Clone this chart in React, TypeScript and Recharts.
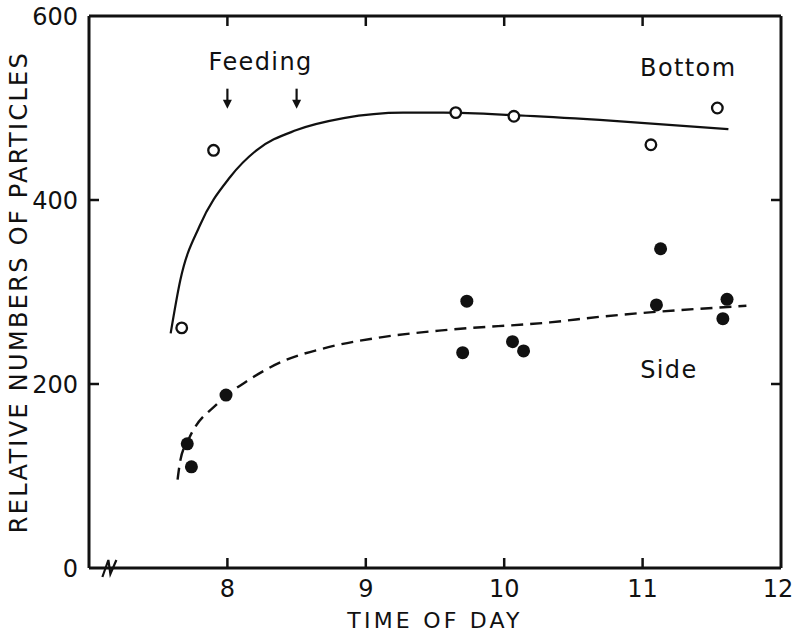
import React from "react";
import {
  ComposedChart,
  Line,
  Scatter,
  XAxis,
  YAxis,
  ReferenceDot,
  ReferenceLine,
} from "recharts";

// measured points (time of day, relative numbers)
const bottomPoints = [
  { x: 7.67, y: 261 },
  { x: 7.9, y: 454 },
  { x: 9.65, y: 495 },
  { x: 10.07, y: 491 },
  { x: 11.06, y: 460 },
  { x: 11.54, y: 500 },
];

const sidePoints = [
  { x: 7.71, y: 135 },
  { x: 7.74, y: 110 },
  { x: 7.99, y: 188 },
  { x: 9.7, y: 234 },
  { x: 9.73, y: 290 },
  { x: 10.06, y: 246 },
  { x: 10.14, y: 236 },
  { x: 11.1, y: 286 },
  { x: 11.13, y: 347 },
  { x: 11.58, y: 271 },
  { x: 11.61, y: 292 },
];

// fitted curves as drawn in the figure
const bottomCurve = [
  { x: 7.59, y: 255 },
  { x: 7.66, y: 313 },
  { x: 7.8, y: 372 },
  { x: 8.02, y: 425 },
  { x: 8.21, y: 454 },
  { x: 8.5, y: 476 },
  { x: 8.84, y: 489 },
  { x: 9.27, y: 495 },
  { x: 9.56, y: 495 },
  { x: 10.1, y: 492 },
  { x: 10.69, y: 487 },
  { x: 11.62, y: 477 },
];

const sideCurve = [
  { x: 7.64, y: 96 },
  { x: 7.66, y: 117 },
  { x: 7.72, y: 140 },
  { x: 7.93, y: 179 },
  { x: 8.15, y: 204 },
  { x: 8.39, y: 224 },
  { x: 8.73, y: 240 },
  { x: 9.12, y: 251 },
  { x: 9.6, y: 259 },
  { x: 10.33, y: 267 },
  { x: 10.69, y: 273 },
  { x: 11.75, y: 285 },
];

const xTicks = [8, 9, 10, 11, 12];
const yTicks = [0, 200, 400, 600];
const innerXTicks = [8, 9, 10, 11];
const innerYTicks = [200, 400];
const feedingTimes = [8, 8.5];

const INK = "#111";
const FONT = "DejaVu Sans";
const TICK_LEN = 10;

const BottomTickLabel = (props: any) => (
  <text
    x={props.payload.value === 12 ? props.x - 3 : props.x}
    y={props.y + 17}
    textAnchor="middle"
    fontSize={24}
    fontFamily={FONT}
    fill={INK}
  >
    {props.payload.value}
  </text>
);

const LeftTickLabel = (props: any) => (
  <text x={props.x} y={props.y + 9} textAnchor="end" fontSize={24} fontFamily={FONT} fill={INK}>
    {props.payload.value}
  </text>
);

// inward tick marks
const tickMark = (dx: number, dy: number) => (props: any) => (
  <line
    x1={props.cx}
    y1={props.cy}
    x2={props.cx + dx}
    y2={props.cy + dy}
    stroke={INK}
    strokeWidth={2.5}
  />
);

const OpenDot = (props: any) => (
  <circle cx={props.cx} cy={props.cy} r={5.3} fill="#fff" stroke={INK} strokeWidth={2.3} />
);

const FilledDot = (props: any) => (
  <circle cx={props.cx} cy={props.cy} r={6.5} fill={INK} />
);

const Arrow = (props: any) => {
  const { cx, cy } = props;
  return (
    <g>
      <line x1={cx} x2={cx} y1={cy} y2={cy + 14} stroke={INK} strokeWidth={2.2} />
      <path d={`M${cx - 4.5},${cy + 11} L${cx + 4.5},${cy + 11} L${cx},${cy + 20} Z`} fill={INK} />
    </g>
  );
};

const AxisBreak = (props: any) => {
  const { cx, cy } = props;
  return (
    <path
      d={`M${cx - 6},${cy + 9} L${cx},${cy - 8} L${cx + 2},${cy + 6} L${cx + 8},${cy - 8}`}
      fill="none"
      stroke={INK}
      strokeWidth={2.2}
    />
  );
};

const textShape = (label: string) => (props: any) => (
  <text
    x={props.cx}
    y={props.cy}
    textAnchor="middle"
    fontSize={24}
    letterSpacing={1.4}
    fontFamily={FONT}
    fill={INK}
  >
    {label}
  </text>
);

const YTitle = () => (
  <text
    x={19}
    y={292}
    transform="rotate(-90 19 292)"
    textAnchor="middle"
    dominantBaseline="central"
    fontSize={24}
    letterSpacing={2.3}
    fontFamily={FONT}
    fill={INK}
  >
    RELATIVE NUMBERS OF PARTICLES
  </text>
);

export default function App() {
  return (
    <div style={{ position: "absolute", left: 0, top: 0, background: "#fff" }}>
      <ComposedChart
        width={795}
        height={632}
        margin={{ top: 16, right: 14, left: 0, bottom: 0 }}
      >
        <XAxis
          type="number"
          dataKey="x"
          domain={[7, 12]}
          ticks={xTicks}
          interval={0}
          allowDataOverflow
          height={64}
          tickSize={0}
          tickMargin={12}
          tickLine={false}
          axisLine={{ stroke: INK, strokeWidth: 3 }}
          tick={<BottomTickLabel />}
          label={{
            value: "TIME OF DAY",
            position: "insideBottom",
            offset: 4,
            fontSize: 22,
            letterSpacing: 3.2,
            fontFamily: FONT,
            fill: INK,
          }}
        />
        <YAxis
          type="number"
          domain={[0, 600]}
          ticks={yTicks}
          interval={0}
          allowDataOverflow
          width={89}
          tickSize={0}
          tickMargin={11}
          tickLine={false}
          axisLine={{ stroke: INK, strokeWidth: 3 }}
          tick={<LeftTickLabel />}
          label={<YTitle />}
        />

        {/* top and right frame */}
        <ReferenceLine y={600} stroke={INK} strokeWidth={3} ifOverflow="visible" />
        <ReferenceLine x={12} stroke={INK} strokeWidth={3} ifOverflow="visible" />

        {innerXTicks.map((t) => (
          <ReferenceDot key={`b${t}`} x={t} y={0} ifOverflow="visible" shape={tickMark(0, -TICK_LEN)} />
        ))}
        {innerXTicks.map((t) => (
          <ReferenceDot key={`t${t}`} x={t} y={600} ifOverflow="visible" shape={tickMark(0, TICK_LEN)} />
        ))}
        {innerYTicks.map((t) => (
          <ReferenceDot key={`l${t}`} x={7} y={t} ifOverflow="visible" shape={tickMark(TICK_LEN, 0)} />
        ))}
        {innerYTicks.map((t) => (
          <ReferenceDot key={`r${t}`} x={12} y={t} ifOverflow="visible" shape={tickMark(-TICK_LEN, 0)} />
        ))}

        <Line
          data={bottomCurve}
          dataKey="y"
          type="monotone"
          stroke={INK}
          strokeWidth={2.2}
          dot={false}
          activeDot={false}
          isAnimationActive={false}
        />
        <Line
          data={sideCurve}
          dataKey="y"
          type="monotone"
          stroke={INK}
          strokeWidth={2.4}
          strokeDasharray="12 7"
          dot={false}
          activeDot={false}
          isAnimationActive={false}
        />
        <Scatter
          data={bottomPoints}
          dataKey="y"
          shape={<OpenDot />}
          isAnimationActive={false}
        />
        <Scatter
          data={sidePoints}
          dataKey="y"
          shape={<FilledDot />}
          isAnimationActive={false}
        />

        {feedingTimes.map((t) => (
          <ReferenceDot key={t} x={t} y={521} ifOverflow="visible" shape={<Arrow />} />
        ))}
        <ReferenceDot x={8.24} y={541} ifOverflow="visible" shape={textShape("Feeding")} />
        <ReferenceDot x={11.33} y={535} ifOverflow="visible" shape={textShape("Bottom")} />
        <ReferenceDot x={11.19} y={206} ifOverflow="visible" shape={textShape("Side")} />
        <ReferenceDot x={7.14} y={0} ifOverflow="visible" shape={<AxisBreak />} />
      </ComposedChart>
    </div>
  );
}
